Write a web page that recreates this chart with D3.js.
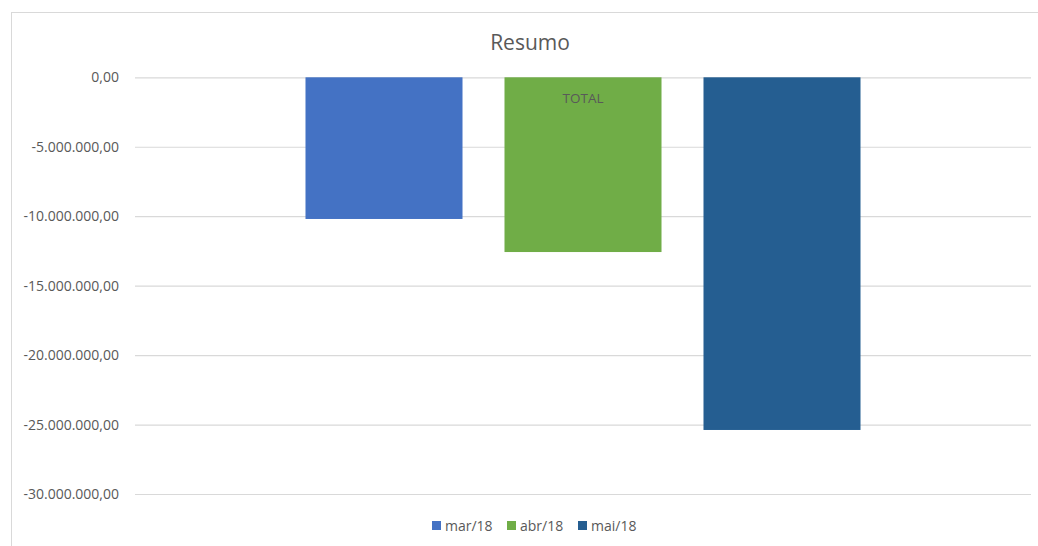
<!DOCTYPE html>
<html>
<head>
<meta charset="utf-8">
<script src="https://cdn.jsdelivr.net/npm/d3@7"></script>
<style>
  html, body { margin: 0; padding: 0; background: #fff; }
  text { font-family: "Open Sans", "Liberation Sans", sans-serif; fill: #595959; }
</style>
</head>
<body>
<div id="chart"></div>
<script>
const WIDTH = 1038, HEIGHT = 546;

// data
const categories = ["TOTAL"];
const series = ["mar/18", "abr/18", "mai/18"];
const values = [-10200000, -12580000, -25390000];
const colors = ["#4472C4", "#70AD47", "#255E91"];
const yTicks = [0, -5000000, -10000000, -15000000, -20000000, -25000000, -30000000];

const plot = { left: 135, right: 1031, top: 77.3, bottom: 494 };

const svg = d3.select("#chart").append("svg")
  .attr("width", WIDTH).attr("height", HEIGHT);

// chart frame
svg.append("rect")
  .attr("x", 11.5).attr("y", 12.5)
  .attr("width", 1060).attr("height", 560)
  .attr("fill", "none").attr("stroke", "#d9d9d9");

svg.append("text")
  .attr("x", 530).attr("y", 50)
  .attr("text-anchor", "middle")
  .style("font-size", "21px")
  .text("Resumo");

const y = d3.scaleLinear().domain([0, -30000000]).range([plot.top, plot.bottom]);
const x0 = d3.scaleBand().domain(categories).range([plot.left, plot.right]).padding(0.235);
const x1 = d3.scaleBand().domain(series).range([0, x0.bandwidth()]).paddingInner(0.211).paddingOuter(0);

const fmt = v => {
  const s = d3.format(",.2f")(v);
  return s.replace(/,/g, "#").replace(".", ",").replace(/#/g, ".").replace("−", "-");
};

const yAxis = d3.axisLeft(y).tickValues(yTicks)
  .tickSize(-(plot.right - plot.left)).tickPadding(16).tickFormat(fmt);
const ga = svg.append("g").attr("transform", `translate(${plot.left},0)`).call(yAxis);
ga.select(".domain").remove();
ga.selectAll(".tick line").attr("stroke", "#d9d9d9").attr("stroke-width", 1.2);
ga.selectAll(".tick text").style("font-size", "14px").attr("fill", "#595959");

// bars
const rows = series.map((s, i) => ({ series: s, value: values[i], cat: categories[0] }));
svg.append("g").selectAll("rect").data(rows).join("rect")
  .attr("x", d => x0(d.cat) + x1(d.series))
  .attr("y", d => y(Math.max(0, d.value)))
  .attr("width", x1.bandwidth())
  .attr("height", d => Math.abs(y(d.value) - y(0)))
  .attr("fill", (d, i) => colors[i]);

// category label sits at the zero line
svg.append("text")
  .attr("x", x0(categories[0]) + x0.bandwidth() / 2)
  .attr("y", 103)
  .attr("text-anchor", "middle")
  .style("font-size", "13.5px")
  .text(categories[0]);

// legend
const legX = [432, 507, 578];
const leg = svg.append("g").selectAll("g").data(series).join("g")
  .attr("transform", (d, i) => `translate(${legX[i]},521)`);
leg.append("rect").attr("width", 9).attr("height", 9).attr("fill", (d, i) => colors[i]);
leg.append("text").attr("x", 13).attr("y", 10).style("font-size", "14px").text(d => d);
</script>
</body>
</html>
